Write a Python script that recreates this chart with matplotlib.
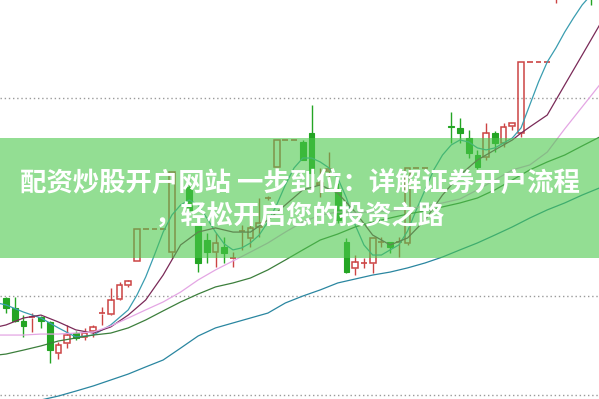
import numpy as np
import matplotlib.pyplot as plt
from matplotlib.patches import Rectangle

plt.rcParams['font.family'] = ['Noto Sans CJK SC', 'DejaVu Sans']

nan = np.nan

# daily candles (open, high, low, close), one entry per trading day
opens = [9.90, 9.40, 8.74, 8.89, 8.94, 8.69, 7.13, 7.63, 8.13, 7.93,
         8.23, 9.09, 9.09, 9.85, 10.56, 11.77, 13.39, 13.39, 13.39, 12.22,
         nan, 15.51, 13.69, 12.83, 12.22, 12.48, 11.87, 13.23, 12.93, 13.50,
         14.95, 16.52, 17.88, 17.88, 17.78, 18.23, 15.60, 16.30, 15.36, 12.73,
         11.42, 11.67, 11.67, 12.73, 12.73, 12.68, 12.68, 16.47, 16.47, nan,
         nan, 18.59, 18.49, 17.98, 17.12, 17.02, 18.23, 17.73, 18.59, 18.23,
         21.82, 21.82, 21.82, 25.00, 26.00, 27.00, 27.50, 27.80]
highs = [9.95, 9.95, 9.04, 9.14, 8.99, 8.74, 7.68, 8.54, 8.23, 8.39,
         8.54, 9.45, 10.41, 10.71, 10.81, 13.39, 13.39, 13.39, 13.39, 16.26,
         nan, 15.96, 13.69, 13.18, 13.18, 12.98, 12.22, 13.59, 13.84, 14.95,
         15.05, 17.88, 17.88, 17.88, 17.88, 19.65, 16.47, 17.27, 15.71, 12.93,
         12.07, 11.92, 12.93, 12.98, 12.73, 12.98, 16.47, 16.47, 16.47, nan,
         nan, 19.29, 18.99, 18.39, 17.40, 18.74, 18.33, 18.74, 18.74, 21.82,
         21.82, 21.82, 21.82, 26.00, 27.00, 28.00, 28.50, 28.20]
lows = [9.14, 8.69, 7.93, 8.18, 8.39, 6.62, 6.82, 7.38, 7.78, 7.78,
        7.93, 8.54, 9.04, 9.80, 10.46, 11.77, 13.39, 13.39, 13.39, 11.92,
        nan, 14.35, 11.21, 11.67, 11.47, 11.67, 11.47, 12.33, 12.48, 12.98,
        14.85, 16.52, 17.88, 17.88, 16.87, 15.86, 15.00, 15.51, 13.69, 11.16,
        11.06, 11.42, 11.16, 12.48, 12.17, 11.97, 12.60, 16.47, 16.47, nan,
        nan, 17.73, 17.73, 16.97, 16.40, 16.87, 17.27, 17.53, 18.39, 18.03,
        21.82, 21.82, 21.82, 24.80, 25.50, 26.50, 26.80, 24.70]
closes = [9.40, 8.74, 8.49, 8.94, 8.74, 7.28, 7.53, 8.03, 7.88, 8.13,
          8.44, 9.14, 9.80, 10.56, 10.76, 13.39, 13.39, 13.39, 13.39, 16.26,
          nan, 14.35, 11.67, 12.22, 12.68, 12.17, 11.92, 13.28, 13.44, 13.70,
          14.95, 17.88, 17.88, 17.88, 16.87, 16.21, 15.70, 16.40, 13.84, 11.21,
          11.72, 11.67, 12.93, 12.73, 12.48, 12.73, 16.47, 16.47, 16.47, nan,
          nan, 18.54, 18.23, 17.22, 16.52, 18.23, 17.73, 18.54, 18.74, 21.82,
          21.82, 21.82, 21.82, 25.80, 26.80, 27.50, 28.00, 26.00]

# moving averages read at selected days
ma5_days = [-1, 0, 2, 4, 6, 8, 10, 12, 14, 15, 16, 17, 18, 19, 20, 21, 22, 23, 24, 25,
            26, 27, 28, 29, 30, 31, 32, 33, 34, 35, 36, 37, 38, 39, 40, 41, 42, 43, 44, 45,
            46, 47, 48, 49, 50, 51, 52, 53, 54, 55, 56, 57, 58, 59, 60, 61, 62, 63, 64, 65,
            66, 67, 68]
ma5_vals = [9.65, 9.55, 9.19, 8.89, 8.39, 7.93, 8.03, 8.54, 9.30, 10.05, 10.96, 12.07, 13.23,
            14.09, 14.60, 14.85, 14.60, 13.94, 13.23, 12.63, 12.33, 12.43, 12.68, 13.08, 13.74,
            14.60, 15.61, 16.47, 16.97, 16.97, 16.77, 16.47, 15.96, 14.95, 13.59, 12.58, 12.07,
            12.07, 12.33, 12.58, 13.28, 14.35, 15.36, 16.37, 17.12, 17.63, 17.88, 17.78, 17.48,
            17.38, 17.48, 17.73, 17.98, 18.49, 19.65, 20.81, 21.82, 22.53, 23.33, 24.04, 24.70,
            25.20, 25.71]
ma10_days = [-1, 0, 2, 4, 6, 8, 10, 12, 14, 16, 18, 20, 22, 24, 26, 28, 30, 32, 34, 36,
             38, 40, 42, 44, 46, 48, 50, 52, 54, 56, 58, 59, 60, 62, 64, 66, 68]
ma10_vals = [8.44, 8.54, 8.89, 9.04, 8.69, 8.29, 8.13, 8.44, 9.04, 9.80, 11.06, 12.58, 13.23,
             13.44, 13.23, 13.23, 13.84, 14.60, 15.36, 15.61, 15.20, 14.24, 13.08, 12.58, 12.93,
             13.84, 15.10, 16.11, 16.87, 17.38, 17.88, 18.23, 18.54, 19.14, 20.66, 22.17, 23.69]
ma20_days = [-1, 0, 2, 4, 6, 8, 10, 12, 14, 16, 18, 20, 22, 24, 26, 28, 30, 32, 34, 36,
             38, 40, 42, 44, 46, 48, 50, 52, 54, 56, 58, 60, 62, 64, 66, 68]
ma20_vals = [8.03, 8.03, 8.03, 8.08, 8.08, 8.13, 8.18, 8.49, 8.89, 9.30, 9.70, 10.20, 10.81,
             11.32, 11.77, 12.22, 12.68, 13.23, 13.74, 14.09, 14.24, 14.24, 14.24, 14.29, 14.39,
             14.55, 14.70, 14.90, 15.36, 15.86, 16.37, 16.62, 17.27, 18.44, 19.55, 20.66]
ma30_days = [-1, 0, 2, 4, 6, 8, 10, 12, 14, 16, 18, 20, 22, 24, 26, 28, 30, 32, 34, 36,
             38, 40, 42, 44, 46, 48, 50, 52, 54, 56, 58, 60, 62, 64, 66, 68]
ma30_vals = [7.02, 7.07, 7.27, 7.48, 7.73, 7.88, 8.03, 8.13, 8.39, 8.79, 9.25, 9.70, 10.10,
             10.46, 10.66, 10.91, 11.32, 11.82, 12.33, 12.83, 13.13, 13.49, 13.74, 13.94, 14.14,
             14.30, 14.50, 14.70, 14.95, 15.36, 15.86, 16.37, 16.77, 17.12, 17.58, 18.03]
ma60_days = [0, 4, 6, 8, 10, 12, 14, 16, 18, 20, 22, 24, 26, 28, 30, 32, 34, 36, 38, 40,
             42, 44, 46, 48, 50, 52, 54, 56, 58, 60, 62, 64, 66, 68]
ma60_vals = [4.14, 4.75, 4.95, 5.20, 5.46, 5.76, 6.06, 6.42, 6.77, 7.37, 7.98, 8.39, 8.64,
             8.89, 9.14, 9.65, 10.00, 10.31, 10.66, 10.86, 11.06, 11.21, 11.42, 11.67, 11.97,
             12.33, 12.68, 13.08, 13.49, 13.94, 14.35, 14.70, 15.10, 15.46]

grid_levels = [5, 10, 20]

title_lines = ['配资炒股开户网站 一步到位：详解证券开户流程', '，轻松开启您的投资之路']

RED = '#cc4444'
GREEN = '#24a524'


def draw_candles(ax, o, h, l, c, w=0.66):
    for i in range(len(o)):
        if np.isnan(o[i]):
            continue
        if h[i] == l[i]:
            ax.hlines(o[i], i - w / 2, i + w / 2, color=RED, lw=1.2)
            continue
        if c[i] >= o[i]:
            top, bot = c[i], o[i]
            ax.vlines(i, top, h[i], color=RED, lw=1)
            ax.vlines(i, l[i], bot, color=RED, lw=1)
            if top - bot < 0.06:
                ax.hlines(top, i - w / 2, i + w / 2, color=RED, lw=1.2)
            else:
                ax.add_patch(Rectangle((i - w / 2, bot), w, top - bot, fill=False,
                                       edgecolor=RED, lw=1.1, zorder=3))
        else:
            ax.vlines(i, l[i], h[i], color=GREEN, lw=1)
            ax.add_patch(Rectangle((i - w / 2, c[i]), w, o[i] - c[i], facecolor=GREEN,
                                   edgecolor=GREEN, lw=0.8, zorder=3))


fig = plt.figure(figsize=(5.99, 3.99), dpi=100)
ax = fig.add_axes([0, 0, 1, 1])
ax.set_xlim(-0.69, 67.93)
ax.set_ylim(4.8, 24.95)
ax.axis('off')

for g in grid_levels:
    ax.axhline(g, color='#9a9a9a', lw=1, linestyle=(0, (1, 2)), zorder=0)

draw_candles(ax, opens, highs, lows, closes)

ax.plot(ma5_days, ma5_vals, color='#3a9db0', lw=0.9, zorder=4)
ax.plot(ma10_days, ma10_vals, color='#7a2a58', lw=0.9, zorder=4)
ax.plot(ma20_days, ma20_vals, color='#e4a6e4', lw=0.9, zorder=4)
ax.plot(ma30_days, ma30_vals, color='#3c7f3c', lw=0.9, zorder=4)
ax.plot(ma60_days, ma60_vals, color='#2a86a0', lw=0.9, zorder=4)

# translucent title banner
fig.add_artist(Rectangle((0, 0.353), 1, 0.301, transform=fig.transFigure,
                         facecolor='#4cc84c', alpha=0.6, edgecolor='none'))
fig.text(0.5, 0.541, title_lines[0], ha='center', va='center', color='white',
         fontsize=19, fontweight='bold')
fig.text(0.5, 0.456, title_lines[1], ha='center', va='center', color='white',
         fontsize=19, fontweight='bold')

fig.savefig('out.png', dpi=100)
